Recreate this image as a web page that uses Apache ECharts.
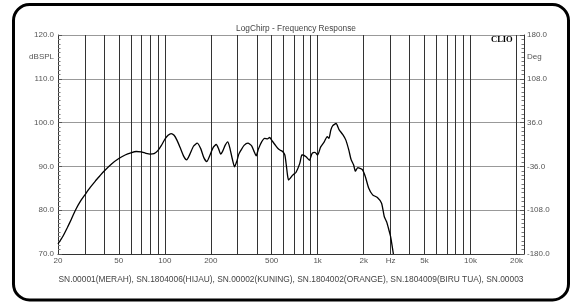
<!DOCTYPE html>
<html>
<head>
<meta charset="utf-8">
<script src="https://cdn.jsdelivr.net/npm/echarts@6/dist/echarts.min.js"></script>
<style>
  html, body { margin: 0; padding: 0; background: #fff; }
  #main { width: 576px; height: 302px; }
</style>
</head>
<body>
<div id="main"></div>
<script>
// frequency (Hz) and level (dB SPL)
var freq = [
  20, 21.5, 23, 24.5, 26, 28, 30, 32.5, 35, 37.5,
  40, 45, 50, 55, 60, 65, 70, 75, 80, 85,
  90, 95, 100, 105, 110, 115, 120, 126, 133, 139,
  146, 154, 163, 172, 180, 188, 197, 207, 217, 225,
  232, 240, 248, 258, 266, 276, 286, 296, 305, 315,
  330, 350, 370, 385, 396, 410, 430, 450, 470, 485,
  500, 525, 550, 570, 590, 610, 625, 635, 645, 665,
  686, 697, 721, 764, 788, 800, 840, 884, 920, 960,
  1000, 1045, 1104, 1155, 1185, 1220, 1256, 1320, 1380, 1458,
  1530, 1600, 1654, 1720, 1766, 1830, 1958, 2050, 2160, 2290,
  2460, 2620, 2730, 2830, 2920, 3000, 3130
];
var spl = [
  72.3, 74.0, 76.0, 78.0, 80.0, 82.0, 83.5, 85.2, 86.6, 87.8,
  88.9, 90.6, 91.8, 92.6, 93.1, 93.4, 93.3, 93.0, 92.8, 92.9,
  93.6, 94.8, 96.2, 97.1, 97.5, 97.1, 96.0, 94.3, 92.3, 91.5,
  92.8, 94.6, 95.3, 94.0, 92.0, 91.1, 92.5, 94.3, 95.0, 94.0,
  92.8, 93.6, 94.8, 95.6, 94.3, 91.8, 89.9, 91.2, 92.8, 93.7,
  94.8, 95.3, 94.7, 93.3, 92.4, 94.0, 95.6, 96.4, 96.3, 96.6,
  96.0, 95.0, 94.1, 93.7, 93.4, 92.6, 90.0, 88.0, 86.9, 87.4,
  88.0, 88.2, 88.6, 90.7, 92.6, 92.6, 92.2, 91.4, 93.0, 93.2,
  92.6, 94.4, 95.6, 96.8, 96.4, 98.3, 99.3, 99.8, 98.4, 97.3,
  96.0, 93.7, 91.6, 90.3, 88.9, 89.7, 89.3, 87.7, 85.0, 83.5,
  82.9, 81.6, 78.5, 77.3, 75.6, 74.0, 70.0
];

var gridFreqs = [30, 40, 50, 60, 70, 80, 90, 100, 200, 300, 400, 500, 600, 700, 800, 900,
  1000, 2000, 3000, 4000, 5000, 6000, 7000, 8000, 9000, 10000, 20000];
var xLabelValues = [20, 50, 100, 200, 500, 1000, 2000, 3000, 5000, 10000, 20000];
var xLabels = ['20', '50', '100', '200', '500', '1k', '2k', 'Hz', '5k', '10k', '20k'];

var leftLabelValues = [70, 80, 90, 100, 110, 115, 120];
var rightLabelValues = [-180, -108, -36, 36, 108, 144, 180];

var legendText = 'SN.00001(MERAH), SN.1804006(HIJAU), SN.00002(KUNING), SN.1804002(ORANGE), SN.1804009(BIRU TUA), SN.00003';

var data = freq.map(function (f, i) { return [f, spl[i]]; });

var chart = echarts.init(document.getElementById('main'), null, { renderer: 'canvas' });

var labelColor = '#555';
var font = 'Arial, "Liberation Sans", sans-serif';

var option = {
  backgroundColor: '#fff',
  animation: false,
  title: {
    text: 'LogChirp - Frequency Response',
    left: 291,
    top: 20,
    textAlign: 'center',
    textStyle: { fontSize: 8.3, fontWeight: 'normal', color: '#444', fontFamily: font }
  },
  grid: { left: 58, right: 52, top: 35, bottom: 48 },
  xAxis: {
    type: 'log',
    min: 20,
    max: 22400,
    axisLine: { show: true, onZero: false, lineStyle: { color: '#333' } },
    axisTick: { show: false, customValues: gridFreqs },
    axisLabel: {
      customValues: xLabelValues,
      color: labelColor,
      fontSize: 8,
      fontFamily: font,
      margin: 3,
      formatter: function (v) {
        var best = 0;
        for (var i = 1; i < xLabelValues.length; i++) {
          if (Math.abs(Math.log(xLabelValues[i] / v)) < Math.abs(Math.log(xLabelValues[best] / v))) best = i;
        }
        return xLabels[best];
      }
    },
    splitLine: { show: true, lineStyle: { color: '#333', width: 1 } }
  },
  yAxis: [
    {
      type: 'value',
      min: 70,
      max: 120,
      interval: 10,
      axisLine: { show: true, lineStyle: { color: '#333' } },
      axisTick: { show: true, inside: true, length: 4, lineStyle: { color: '#555' } },
      minorTick: { show: true, splitNumber: 10, length: 2.5, lineStyle: { color: '#777' } },
      axisLabel: {
        customValues: leftLabelValues,
        color: labelColor,
        fontSize: 8,
        fontFamily: font,
        margin: 4,
        formatter: function (v) { return v === 115 ? 'dBSPL' : v.toFixed(1); }
      },
      splitLine: { show: true, lineStyle: { color: '#999', width: 1 } }
    },
    {
      type: 'value',
      position: 'right',
      min: -180,
      max: 180,
      interval: 72,
      axisLine: { show: true, lineStyle: { color: '#333' } },
      axisTick: { show: true, inside: true, length: 4, lineStyle: { color: '#555' } },
      minorTick: { show: true, splitNumber: 10, length: 2.5, lineStyle: { color: '#777' } },
      axisLabel: {
        customValues: rightLabelValues,
        color: labelColor,
        fontSize: 8,
        fontFamily: font,
        margin: 3,
        formatter: function (v) { return v === 144 ? 'Deg' : v.toFixed(1); }
      },
      splitLine: { show: false }
    }
  ],
  graphic: [
    {
      type: 'rect',
      shape: { x: 13.5, y: 4.5, width: 555, height: 295.5, r: 16 },
      style: { fill: 'none', stroke: '#000', lineWidth: 3 },
      silent: true
    },
    {
      type: 'text',
      left: 491,
      top: 35,
      style: { text: 'CLIO', fontSize: 8.5, fontWeight: 'bold', fontFamily: '"Liberation Serif", "DejaVu Serif", serif', fill: '#000' },
      silent: true
    },
    {
      type: 'text',
      x: 291,
      y: 280,
      style: { text: legendText, fontSize: 8.4, fontFamily: font, fill: '#444', align: 'center', verticalAlign: 'middle' },
      silent: true
    }
  ],
  series: [
    {
      type: 'line',
      data: data,
      yAxisIndex: 0,
      showSymbol: false,
      smooth: 0.2,
      clip: true,
      lineStyle: { color: '#000', width: 1.3 }
    }
  ]
};

chart.setOption(option);
</script>
</body>
</html>
